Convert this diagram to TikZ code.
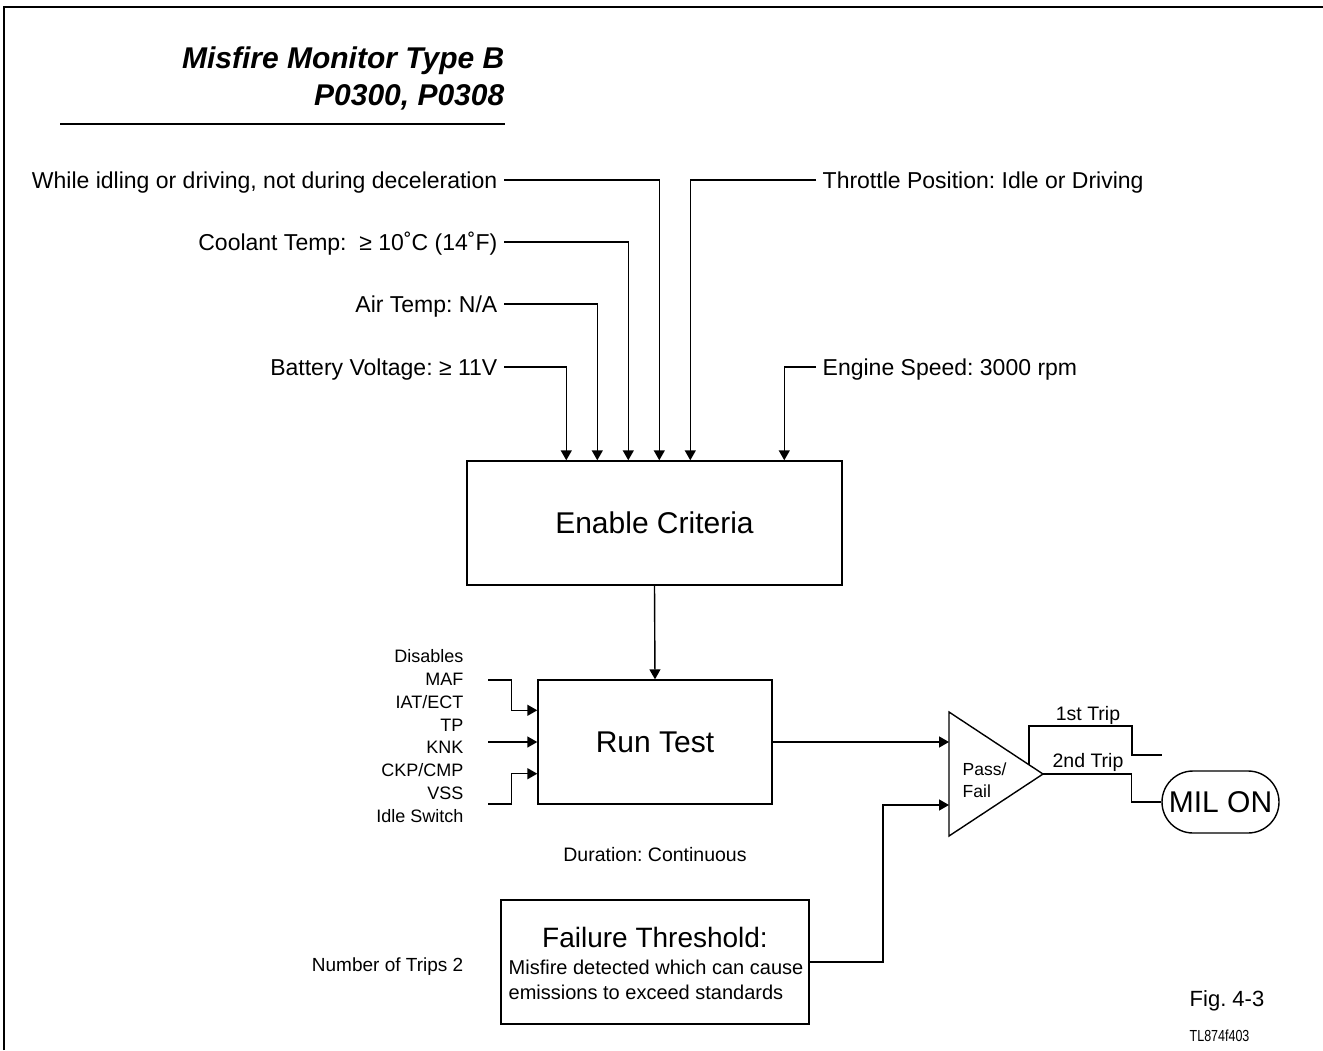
\documentclass[tikz,border=0pt]{standalone}
\usepackage{fontspec}
\setmainfont{Liberation Sans}
\usetikzlibrary{arrows.meta,calc}
\frenchspacing
\begin{document}
\frenchspacing
\begin{tikzpicture}[x=1pt,y=-1pt, line width=1.4pt,
  box/.style={draw, line width=1.4pt, inner sep=0pt, align=center},
  toplbl/.style={font=\fontsize{23}{27}\selectfont, inner sep=0pt, text height=16pt, text depth=0pt},
  smalllbl/.style={font=\fontsize{18}{22}\selectfont, inner sep=0pt},
  arr/.style={-{Triangle[length=10pt,width=11pt]}},
]
\useasboundingbox (0,0) rectangle (1323,1050);
\fill[white] (0,0) rectangle (1323,1050);
% frame
\draw[line width=2.6pt] (4,1050) -- (4,7) -- (1323,7);
% title
\node[anchor=base east, inner sep=0pt, font=\fontsize{30}{36}\selectfont\bfseries\itshape] (t1) at (505,68) {Misfire Monitor Type B};
\node[anchor=base east, inner sep=0pt, font=\fontsize{30}{36}\selectfont\bfseries\itshape] (t2) at (505,105) {P0300, P0308};
\draw[line width=2.6pt] (60,124) -- (505,124);

% main boxes
\node[box, minimum width=375pt, minimum height=124pt, font=\fontsize{30}{36}\selectfont] (enable) at (654.5,523) {Enable Criteria};
\node[box, minimum width=234pt, minimum height=124pt, font=\fontsize{30}{36}\selectfont] (run) at (655,742) {Run Test};
\node[box, minimum width=308pt, minimum height=124pt] (thr) at (655,962) {};
\node[anchor=base, inner sep=0pt, font=\fontsize{28}{34}\selectfont] (thrT) at (655,947) {Failure Threshold:};
\node[anchor=base west, inner sep=0pt, font=\fontsize{20}{24}\selectfont] (thr1) at (508,974) {Misfire detected which can cause};
\node[anchor=base west, inner sep=0pt, font=\fontsize{20}{24}\selectfont] (thr2) at (508,999) {emissions to exceed standards};

% enable criteria inputs
\node[toplbl, anchor=east] (c1) at (498,180) {While idling or driving, not during deceleration};
\node[toplbl, anchor=east] (c2) at (498,242) {Coolant Temp:\ \ ≥ 10˚C (14˚F)};
\node[toplbl, anchor=east] (c3) at (498,304) {Air Temp: N/A};
\node[toplbl, anchor=east] (c4) at (498,367) {Battery Voltage: ≥ 11V};
\node[toplbl, anchor=west] (c5) at (822,180) {Throttle Position: Idle or Driving};
\node[toplbl, anchor=west] (c6) at (822,367) {Engine Speed: 3000 rpm};

\draw[arr] ([xshift=6pt]c1.east) -| ($(enable.north west)+(193,0)$);
\draw[arr] ([xshift=6pt]c2.east) -| ($(enable.north west)+(162,0)$);
\draw[arr] ([xshift=6pt]c3.east) -| ($(enable.north west)+(131,0)$);
\draw[arr] ([xshift=6pt]c4.east) -| ($(enable.north west)+(100,0)$);
\draw[arr] ([xshift=-6pt]c5.west) -| ($(enable.north west)+(224,0)$);
\draw[arr] ([xshift=-6pt]c6.west) -| ($(enable.north west)+(318,0)$);

\draw[arr] (enable.south) -- (run.north);

% disables
\foreach \t [count=\i] in {Disables,MAF,IAT/ECT,TP,KNK,CKP/CMP,VSS,Idle Switch}
  \node[smalllbl, anchor=base east] (dis\i) at (464,{662.7+(\i-1)*22.8}) {\t};
\coordinate (d1) at (488,680);
\coordinate (d2) at (488,742);
\coordinate (d3) at (488,804);
\draw[arr] (d1) -| ($(run.north west)+(-26,31)$) -- ($(run.north west)+(0,31)$);
\draw[arr] (d2) -- (run.west);
\draw[arr] (d3) -| ($(run.south west)+(-26,-31)$) -- ($(run.south west)+(0,-31)$);

\node[anchor=base, inner sep=0pt, font=\fontsize{19.5}{24}\selectfont] (dur) at (655,861) {Duration: Continuous};
\node[smalllbl, anchor=base east, font=\fontsize{19}{23}\selectfont] (trips) at (464,971) {Number of Trips 2};

% pass/fail comparator
\coordinate (pfTop) at (949,712);
\coordinate (pfBot) at (949,836);
\coordinate (pfApex) at (1043,774);
\draw[line width=1.4pt, line join=miter] (pfTop) -- (pfApex) -- (pfBot) -- cycle;
\node[anchor=base west, inner sep=0pt, align=left, font=\fontsize{17.5}{22}\selectfont] (pf) at (962,797) {Pass/\\Fail};

\draw[arr] (run.east) -- (run.east -| pfTop);
\draw[arr] (thr.east) -| ($(pfTop)+(-66,93)$) -- ($(pfTop)+(0,93)$);

% outputs
\node[draw, line width=1.4pt, rounded corners=31pt, minimum width=117pt, minimum height=62pt, inner sep=0pt, font=\fontsize{30}{36}\selectfont] (mil) at (1220.5,802) {MIL ON};
\coordinate (trip1end) at (1162,755);
\draw ($(pfTop)!0.85!(pfApex)$) |- (1132,726) |- (trip1end);
\draw (pfApex) -| ($(mil.west)+(-30,0)$) -- (mil.west);
\node[anchor=base, inner sep=0pt, font=\fontsize{19.5}{24}\selectfont] (trip1) at (1088,720) {1st Trip};
\node[anchor=base, inner sep=0pt, font=\fontsize{19.5}{24}\selectfont] (trip2) at (1088,767) {2nd Trip};

% figure labels
\node[anchor=base west, inner sep=0pt, font=\fontsize{22}{26}\selectfont] (fig) at (1189,1006) {Fig. 4-3};
\node[anchor=base west, inner sep=0pt, font=\fontsize{16}{19}\selectfont] (tl) at (1189,1041) {\scalebox{0.78}[1]{TL874f403}};
\end{tikzpicture}
\end{document}
